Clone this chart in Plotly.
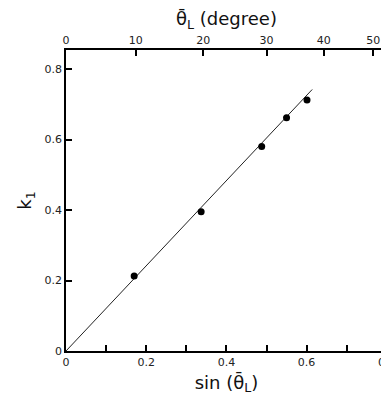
import numpy as np
import plotly.graph_objects as go

# Data
sin_theta = [0.170, 0.337, 0.488, 0.550, 0.601]
k1 = [0.213, 0.395, 0.580, 0.662, 0.712]

fit_x = [0.0, 0.614]
fit_y = [0.0, 0.742]

x_tickvals = [0, 0.2, 0.4, 0.6, 0.8]
x_ticktext = ["0", "0.2", "0.4", "0.6", "0.8"]
y_tickvals = [0, 0.2, 0.4, 0.6, 0.8]
y_ticktext = ["0", "0.2", "0.4", "0.6", "0.8"]
deg_ticks = [0, 10, 20, 30, 40, 50]

FONT = "DejaVu Sans"

fig = go.Figure()
fig.add_trace(go.Scatter(x=fit_x, y=fit_y, mode="lines",
                         line=dict(color="#222", width=1), showlegend=False))
fig.add_trace(go.Scatter(x=sin_theta, y=k1, mode="markers",
                         marker=dict(color="black", size=7), showlegend=False))
# invisible trace for top axis
fig.add_trace(go.Scatter(x=[0], y=[0], xaxis="x2", mode="markers",
                         marker=dict(opacity=0), showlegend=False, hoverinfo="skip"))

axis_common = dict(showgrid=False, zeroline=False, showline=True,
                   linecolor="black", linewidth=1.5, ticks="inside",
                   tickcolor="black", ticklen=6, tickwidth=1.5, automargin=False,
                   ticklabeloverflow="allow",
                   tickfont=dict(family=FONT, size=11, color="#222"))

# page body has an 8px margin; compensate so the plot lands where the reference's does
fig.update_layout(
    width=381, height=390,
    margin=dict(l=58, r=2, t=42, b=47),
    paper_bgcolor="white", plot_bgcolor="white",
    xaxis=dict(range=[0, 0.8005], tickvals=x_tickvals, ticktext=x_ticktext,
               mirror=False,
               minor=dict(dtick=0.1, tick0=0, ticks="inside", ticklen=6,
                          tickwidth=1.5, tickcolor="black", showgrid=False),
               title=dict(text="sin (θ\u0304<sub>L</sub>)",
                          font=dict(family=FONT, size=18, color="#111"),
                          standoff=8),
               **axis_common),
    xaxis2=dict(range=[0, 0.8005], overlaying="x", side="top", anchor="y",
                tickvals=[float(np.sin(np.radians(d))) for d in deg_ticks],
                ticktext=[str(d) for d in deg_ticks],
                title=dict(text="θ\u0304<sub>L</sub> (degree)",
                           font=dict(family=FONT, size=18, color="#111"),
                           standoff=6),
                **axis_common),
    yaxis=dict(range=[0, 0.854], tickvals=y_tickvals, ticktext=y_ticktext,
               mirror=True,
               title=dict(text="k<sub>1</sub>",
                          font=dict(family=FONT, size=18, color="#111"),
                          standoff=8),
               **axis_common),
)

fig.write_html("out.html")
